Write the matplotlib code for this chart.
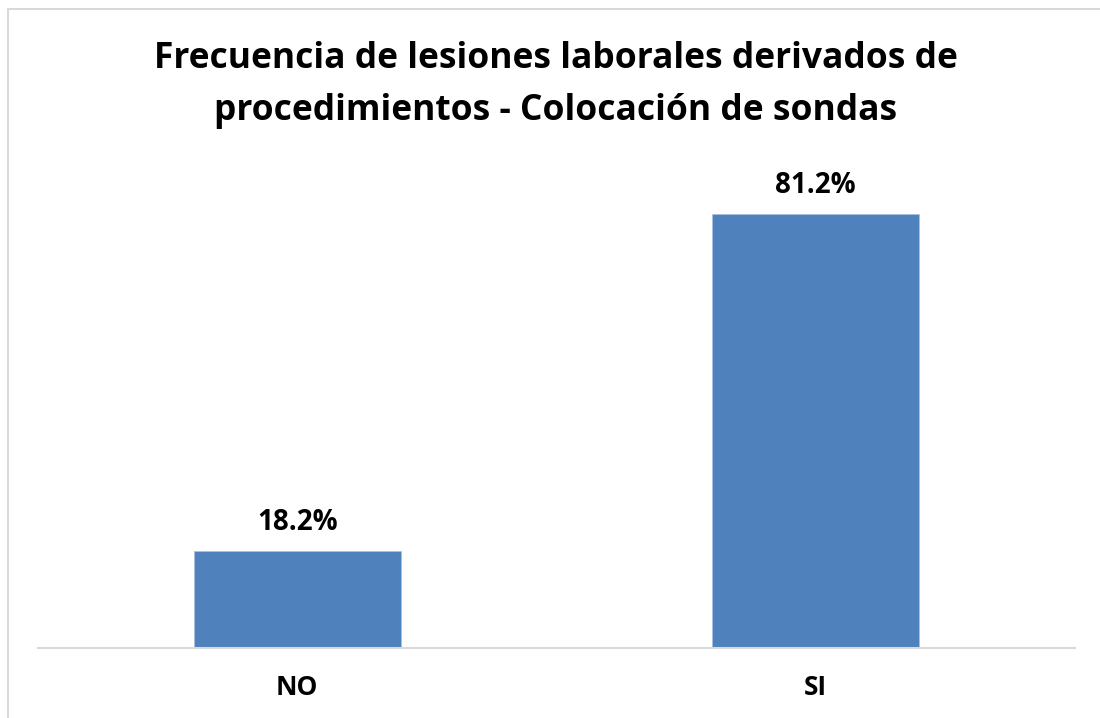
import matplotlib
matplotlib.use("Agg")
import matplotlib.pyplot as plt
from matplotlib.patches import Rectangle

categories = ["NO", "SI"]
values = [18.2, 81.2]
labels = ["18.2%", "81.2%"]
title_lines = ["Frecuencia de lesiones laborales derivados de",
               "procedimientos - Colocación de sondas"]

plt.rcParams['font.family'] = ['Open Sans', 'DejaVu Sans']

W, H = 1100, 718
fig = plt.figure(figsize=(W / 100, H / 100), dpi=100)
fig.patch.set_facecolor("white")

# outer chart border (cropped on right/bottom)
fig.patches.append(Rectangle((8 / W, -0.05), 1.2, (H - 9) / H + 0.05,
                             transform=fig.transFigure, fill=False,
                             edgecolor="#d9d9d9", linewidth=1.5))

ax_left, ax_right = 38, 1075
base_y = 648
ymax = 90
px_per_unit = (648 - 550.7) / 18.2
top_y = base_y - ymax * px_per_unit
ax = fig.add_axes([ax_left / W, 1 - base_y / H, (ax_right - ax_left) / W, (base_y - top_y) / H])

x = range(len(categories))
bars = ax.bar(x, values, width=0.4, color="#4f81bd", edgecolor="#a9c1e0", linewidth=0.6)
ax.set_xlim(-0.5, 1.5)
ax.set_ylim(0, ymax)
for s in ["top", "right", "left"]:
    ax.spines[s].set_visible(False)
ax.spines["bottom"].set_color("#d9d9d9")
ax.spines["bottom"].set_linewidth(1.5)
ax.set_yticks([])
ax.set_xticks(list(x))
ax.set_xticklabels(categories, fontsize=19, fontweight="bold")
ax.tick_params(axis="x", length=0, pad=19)

for b, lab in zip(bars, labels):
    ax.annotate(lab, (b.get_x() + b.get_width() / 2, b.get_height()),
                xytext=(0, 15), textcoords="offset points",
                ha="center", va="baseline", fontsize=20, fontweight="bold")

fig.text(556 / W, 1 - 68 / H, title_lines[0], ha="center", va="baseline",
         fontsize=25.5, fontweight="bold")
fig.text(556 / W, 1 - 120 / H, title_lines[1], ha="center", va="baseline",
         fontsize=25.5, fontweight="bold")

fig.savefig("out.png", dpi=100)
